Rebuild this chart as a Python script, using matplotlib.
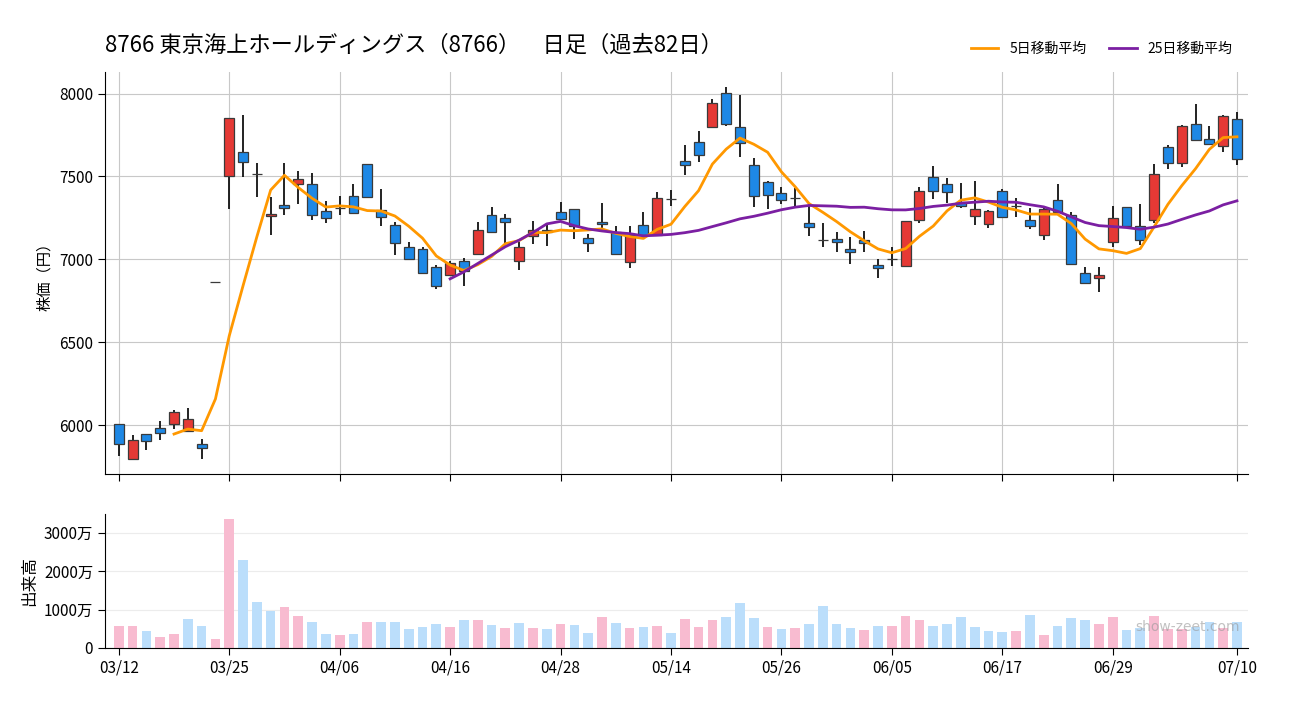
import numpy as np
import pandas as pd
import matplotlib
matplotlib.use("Agg")
import matplotlib.pyplot as plt

plt.rcParams['font.family'] = ['Noto Sans CJK JP', 'DejaVu Sans']

# ---- daily OHLC (yen) and volume (万株), 82 trading days ----
opens = [6006, 5795, 5946, 5982, 6006, 5962, 5886, 6861, 7504, 7647,
         7512, 7259, 7325, 7452, 7452, 7289, 7307, 7380, 7578, 7297,
         7205, 7072, 7060, 6952, 6904, 6988, 7034, 7265, 7247, 6988,
         7139, 7179, 7283, 7301, 7126, 7223, 7167, 6982, 7205, 7147,
         7366, 7596, 7705, 7801, 8006, 7801, 7566, 7464, 7398, 7368,
         7217, 7116, 7120, 7060, 7114, 6964, 7000, 6958, 7235, 7494,
         7452, 7347, 7259, 7215, 7410, 7323, 7235, 7145, 7355, 7269,
         6916, 6886, 7102, 7313, 7203, 7235, 7675, 7584, 7819, 7723,
         7681, 7849]
highs = [6006, 5942, 5946, 6022, 6092, 6102, 5918, 6861, 7855, 7871,
         7580, 7378, 7580, 7534, 7520, 7351, 7380, 7454, 7578, 7424,
         7225, 7102, 7072, 6966, 6990, 7006, 7225, 7315, 7271, 7102,
         7231, 7215, 7345, 7301, 7153, 7339, 7201, 7201, 7285, 7406,
         7418, 7689, 7773, 7966, 8040, 7990, 7610, 7472, 7436, 7432,
         7333, 7221, 7167, 7135, 7171, 7002, 7072, 7233, 7436, 7562,
         7490, 7462, 7474, 7295, 7426, 7368, 7309, 7313, 7454, 7283,
         6952, 6952, 7321, 7313, 7333, 7574, 7689, 7813, 7936, 7803,
         7871, 7888]
lows = [5811, 5795, 5847, 5912, 5978, 5962, 5795, 6861, 7301, 7498,
        7378, 7147, 7269, 7335, 7239, 7221, 7269, 7277, 7374, 7203,
        7028, 7000, 6916, 6823, 6904, 6841, 7034, 7163, 7096, 6938,
        7094, 7082, 7241, 7124, 7046, 7167, 7032, 6950, 7145, 7147,
        7323, 7510, 7588, 7793, 7805, 7618, 7317, 7303, 7333, 7321,
        7143, 7076, 7044, 6974, 7044, 6890, 6962, 6956, 7221, 7365,
        7337, 7309, 7207, 7191, 7253, 7257, 7183, 7116, 7285, 6970,
        6849, 6801, 7076, 7203, 7086, 7221, 7546, 7558, 7717, 7693,
        7649, 7572]
closes = [5886, 5910, 5904, 5952, 6078, 6036, 5861, 6861, 7855, 7590,
          7512, 7271, 7307, 7486, 7265, 7247, 7307, 7277, 7374, 7253,
          7096, 7000, 6916, 6837, 6978, 6932, 7175, 7163, 7223, 7072,
          7179, 7167, 7241, 7203, 7096, 7211, 7032, 7147, 7145, 7368,
          7366, 7566, 7627, 7946, 7819, 7699, 7380, 7386, 7355, 7368,
          7193, 7116, 7106, 7046, 7100, 6946, 7000, 7233, 7415, 7410,
          7404, 7323, 7301, 7289, 7253, 7323, 7199, 7301, 7285, 6970,
          6855, 6904, 7247, 7203, 7114, 7512, 7584, 7807, 7717, 7697,
          7867, 7608]
volumes = [583, 583, 452, 296, 374, 766, 583, 244, 3350, 2279,
           1209, 974, 1079, 844, 687, 374, 348, 374, 687, 687,
           687, 505, 557, 635, 557, 740, 740, 609, 531, 661,
           531, 505, 635, 609, 400, 818, 661, 531, 557, 583,
           400, 766, 557, 740, 818, 1183, 792, 557, 505, 531,
           635, 1105, 635, 531, 479, 583, 583, 844, 740, 583,
           635, 818, 557, 452, 426, 452, 870, 348, 583, 792,
           740, 635, 818, 479, 531, 844, 505, 505, 557, 687,
           531, 687]

tick_idx = [0, 8, 16, 24, 32, 40, 48, 56, 64, 72, 81]
tick_labels = ["03/12", "03/25", "04/06", "04/16", "04/28", "05/14",
               "05/26", "06/05", "06/17", "06/29", "07/10"]

df = pd.DataFrame({"open": opens, "high": highs, "low": lows,
                   "close": closes, "volume": volumes})
df["ma5"] = df["close"].rolling(5).mean()
df["ma25"] = df["close"].rolling(25).mean()
x = np.arange(len(df))

body_col = np.where(df["close"] >= df["open"], "#e53935", "#1e88e5")
vol_col = np.where(df["close"].diff().fillna(1) >= 0, "#f8bbd0", "#bbdefb")

fig = plt.figure(figsize=(13, 7.2), dpi=100)
ax = fig.add_axes([105 / 1300, 1 - 474 / 720, 1143 / 1300, 402 / 720])
axv = fig.add_axes([105 / 1300, 1 - 648 / 720, 1143 / 1300, 134 / 720])

# ---- candles ----
ax.vlines(x, df["low"], df["high"], color="#111111", lw=1.3, zorder=2)
ax.bar(x, (df["close"] - df["open"]).abs(), bottom=np.minimum(df["open"], df["close"]),
       width=0.72, color=body_col, edgecolor="#3a3a3a", linewidth=0.9, zorder=3)
ax.plot(x, df["ma5"], color="#ff9800", lw=2, zorder=4, label="5日移動平均")
ax.plot(x, df["ma25"], color="#7b1fa2", lw=2, zorder=4, label="25日移動平均")

ax.set_xlim(-1, 81.8)
ax.set_ylim(5705, 8130)
ax.set_yticks([6000, 6500, 7000, 7500, 8000])
ax.set_xticks(tick_idx)
ax.set_xticklabels([])
ax.grid(True, color="#c8c8c8", lw=0.8)
ax.set_axisbelow(True)
ax.spines[["top", "right"]].set_visible(False)
ax.tick_params(labelsize=11, length=5)
ax.set_ylabel("株価（円）", fontsize=11)

# ---- volume ----
axv.bar(x, df["volume"], width=0.7, color=vol_col, zorder=2)
axv.set_xlim(-1, 81.8)
axv.set_ylim(0, 3490)
axv.set_yticks([0, 1000, 2000, 3000])
axv.set_yticklabels(["0", "1000万", "2000万", "3000万"])
axv.set_xticks(tick_idx)
axv.set_xticklabels(tick_labels)
axv.grid(True, axis="y", color="#ececec", lw=0.8)
axv.set_axisbelow(True)
axv.spines[["top", "right"]].set_visible(False)
axv.tick_params(labelsize=11, length=5)
axv.set_ylabel("出来高", fontsize=12)
axv.text(0.993, 0.155, "show-zeet.com", transform=axv.transAxes, ha="right",
         va="center", fontsize=10, color="#999999", alpha=0.6, family="DejaVu Sans")

fig.text(105 / 1300, 1 - 45 / 720, "8766 東京海上ホールディングス（8766）　日足（過去82日）",
         fontsize=16, va="center", ha="left")
fig.legend(loc="center right", bbox_to_anchor=(1245 / 1300, 1 - 49 / 720), ncol=2,
           frameon=False, fontsize=10, handlelength=2.0, columnspacing=1.6)

fig.savefig("out.png", dpi=100)
